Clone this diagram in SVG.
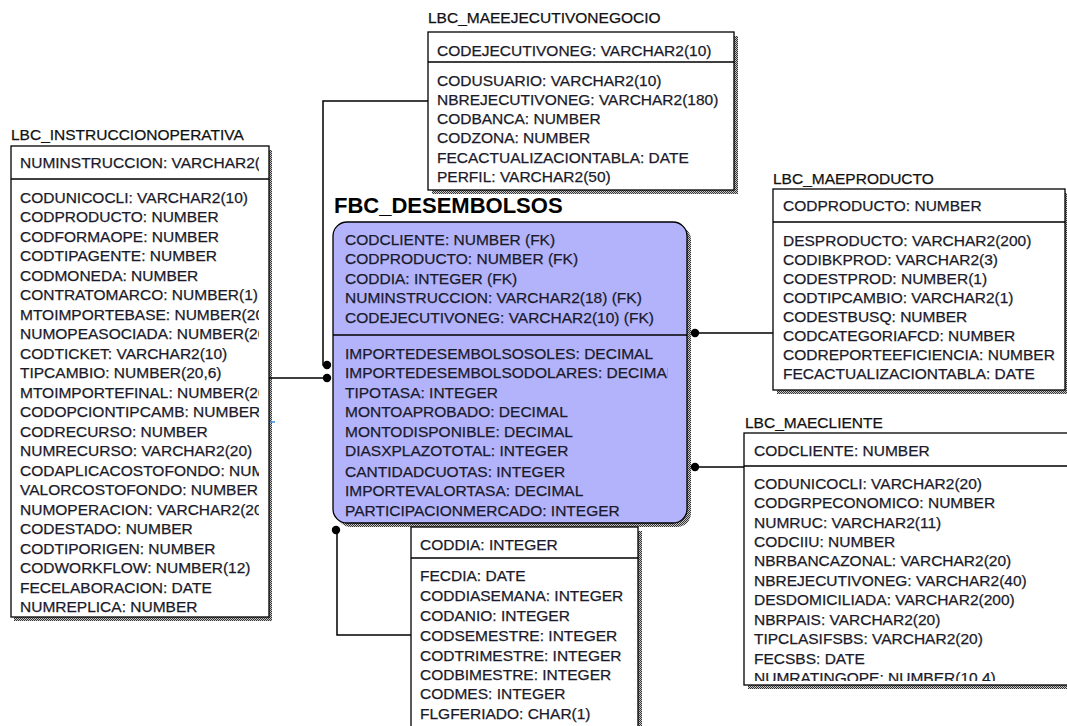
<svg xmlns="http://www.w3.org/2000/svg" width="1067" height="726" viewBox="0 0 1067 726">
<style>
text{font-family:"Liberation Sans",Arial,sans-serif;font-size:15.5px;fill:#1a1a2a;stroke:#1a1a2a;stroke-width:0.25}
.title{fill:#111;stroke:#111}
.big{font-size:22px;font-weight:bold;fill:#000;stroke:none}
.box{fill:#fff;stroke:#000;stroke-width:1.3}
.sep{stroke:#000;stroke-width:1.3}
.conn{fill:none;stroke:#000;stroke-width:1.5}
.dot{fill:#000}
</style>
<defs>
<pattern id="sh" width="2" height="2" patternUnits="userSpaceOnUse">
<rect width="2" height="2" fill="#c8c8c8"/>
<rect width="1" height="1" fill="#333"/>
<rect x="1" y="1" width="1" height="1" fill="#333"/>
</pattern>
<clipPath id="cl"><rect x="11" y="146" width="248" height="471"/></clipPath>
<clipPath id="cc"><rect x="333" y="222" width="335" height="301"/></clipPath>
<clipPath id="cm"><rect x="744" y="433" width="330" height="248"/></clipPath>
</defs>
<rect width="1067" height="726" fill="#fff"/>

<g id="lbc_instruccionoperativa">
<text class="title" x="11" y="140">LBC_INSTRUCCIONOPERATIVA</text>
<rect x="14" y="150" width="258" height="471" fill="url(#sh)"/>
<rect class="box" x="11" y="146" width="258" height="471"/>
<line class="sep" x1="11" y1="179" x2="269" y2="179"/>
<g clip-path="url(#cl)">
<text x="20" y="167.5">NUMINSTRUCCION: VARCHAR2(18)</text>
<text x="20" y="202.5">CODUNICOCLI: VARCHAR2(10)</text>
<text x="20" y="222">CODPRODUCTO: NUMBER</text>
<text x="20" y="241.5">CODFORMAOPE: NUMBER</text>
<text x="20" y="261">CODTIPAGENTE: NUMBER</text>
<text x="20" y="280.5">CODMONEDA: NUMBER</text>
<text x="20" y="300">CONTRATOMARCO: NUMBER(1)</text>
<text x="20" y="319.5">MTOIMPORTEBASE: NUMBER(20,6)</text>
<text x="20" y="339">NUMOPEASOCIADA: NUMBER(20)</text>
<text x="20" y="358.5">CODTICKET: VARCHAR2(10)</text>
<text x="20" y="378">TIPCAMBIO: NUMBER(20,6)</text>
<text x="20" y="397.5">MTOIMPORTEFINAL: NUMBER(20,6)</text>
<text x="20" y="417">CODOPCIONTIPCAMB: NUMBER</text>
<text x="20" y="436.5">CODRECURSO: NUMBER</text>
<text x="20" y="456">NUMRECURSO: VARCHAR2(20)</text>
<text x="20" y="475.5">CODAPLICACOSTOFONDO: NUMBER</text>
<text x="20" y="495">VALORCOSTOFONDO: NUMBER</text>
<text x="20" y="514.5">NUMOPERACION: VARCHAR2(20)</text>
<text x="20" y="534">CODESTADO: NUMBER</text>
<text x="20" y="553.5">CODTIPORIGEN: NUMBER</text>
<text x="20" y="573">CODWORKFLOW: NUMBER(12)</text>
<text x="20" y="592.5">FECELABORACION: DATE</text>
<text x="20" y="612">NUMREPLICA: NUMBER</text>
</g>
<line x1="270" y1="422" x2="275" y2="422" stroke="#3a8ee0" stroke-width="1.5"/>
</g>

<g id="lbc_maeejecutivonegocio">
<text class="title" x="428" y="23">LBC_MAEEJECUTIVONEGOCIO</text>
<rect x="432" y="36" width="306" height="158" fill="url(#sh)"/>
<rect class="box" x="428" y="32" width="306" height="158"/>
<line class="sep" x1="428" y1="62" x2="734" y2="62"/>
<text x="437" y="55.5">CODEJECUTIVONEG: VARCHAR2(10)</text>
<text x="437" y="85.5">CODUSUARIO: VARCHAR2(10)</text>
<text x="437" y="105">NBREJECUTIVONEG: VARCHAR2(180)</text>
<text x="437" y="124">CODBANCA: NUMBER</text>
<text x="437" y="143">CODZONA: NUMBER</text>
<text x="437" y="162.5">FECACTUALIZACIONTABLA: DATE</text>
<text x="437" y="182">PERFIL: VARCHAR2(50)</text>
</g>

<g id="fbc_desembolsos">
<text class="big" x="334" y="213">FBC_DESEMBOLSOS</text>
<rect x="337" y="226" width="354" height="301" rx="14" fill="url(#sh)"/>
<rect x="333" y="222" width="354" height="301" rx="14" fill="#b3b3fc" stroke="#000" stroke-width="1.3"/>
<line class="sep" x1="333" y1="335" x2="687" y2="335"/>
<g clip-path="url(#cc)">
<text x="345" y="244.5">CODCLIENTE: NUMBER (FK)</text>
<text x="345" y="264">CODPRODUCTO: NUMBER (FK)</text>
<text x="345" y="283.5">CODDIA: INTEGER (FK)</text>
<text x="345" y="303">NUMINSTRUCCION: VARCHAR2(18) (FK)</text>
<text x="345" y="322.5">CODEJECUTIVONEG: VARCHAR2(10) (FK)</text>
<text x="345" y="358.5">IMPORTEDESEMBOLSOSOLES: DECIMAL</text>
<text x="345" y="378">IMPORTEDESEMBOLSODOLARES: DECIMAL</text>
<text x="345" y="397.5">TIPOTASA: INTEGER</text>
<text x="345" y="417">MONTOAPROBADO: DECIMAL</text>
<text x="345" y="436.5">MONTODISPONIBLE: DECIMAL</text>
<text x="345" y="456">DIASXPLAZOTOTAL: INTEGER</text>
<text x="345" y="476.5">CANTIDADCUOTAS: INTEGER</text>
<text x="345" y="496">IMPORTEVALORTASA: DECIMAL</text>
<text x="345" y="515.5">PARTICIPACIONMERCADO: INTEGER</text>
</g>
</g>

<g id="lbc_maeproducto">
<text class="title" x="773" y="183.5">LBC_MAEPRODUCTO</text>
<rect x="777" y="193" width="292" height="201" fill="url(#sh)"/>
<rect class="box" x="773" y="189" width="292" height="201"/>
<line class="sep" x1="773" y1="222" x2="1065" y2="222"/>
<text x="783" y="210.5">CODPRODUCTO: NUMBER</text>
<text x="783" y="245.5">DESPRODUCTO: VARCHAR2(200)</text>
<text x="783" y="264.5">CODIBKPROD: VARCHAR2(3)</text>
<text x="783" y="283.5">CODESTPROD: NUMBER(1)</text>
<text x="783" y="302.5">CODTIPCAMBIO: VARCHAR2(1)</text>
<text x="783" y="321.5">CODESTBUSQ: NUMBER</text>
<text x="783" y="340.5">CODCATEGORIAFCD: NUMBER</text>
<text x="783" y="359.5">CODREPORTEEFICIENCIA: NUMBER</text>
<text x="783" y="378.5">FECACTUALIZACIONTABLA: DATE</text>
</g>

<g id="lbc_maecliente">
<text class="title" x="745" y="427.5">LBC_MAECLIENTE</text>
<rect x="748" y="437" width="340" height="252" fill="url(#sh)"/>
<rect class="box" x="744" y="433" width="340" height="252"/>
<line class="sep" x1="744" y1="466" x2="1067" y2="466"/>
<g clip-path="url(#cm)">
<text x="754" y="455.5">CODCLIENTE: NUMBER</text>
<text x="754" y="488.5">CODUNICOCLI: VARCHAR2(20)</text>
<text x="754" y="508">CODGRPECONOMICO: NUMBER</text>
<text x="754" y="527.5">NUMRUC: VARCHAR2(11)</text>
<text x="754" y="546.5">CODCIIU: NUMBER</text>
<text x="754" y="566">NBRBANCAZONAL: VARCHAR2(20)</text>
<text x="754" y="585.5">NBREJECUTIVONEG: VARCHAR2(40)</text>
<text x="754" y="605">DESDOMICILIADA: VARCHAR2(200)</text>
<text x="754" y="624.5">NBRPAIS: VARCHAR2(20)</text>
<text x="754" y="644">TIPCLASIFSBS: VARCHAR2(20)</text>
<text x="754" y="663.5">FECSBS: DATE</text>
<text x="754" y="683">NUMRATINGOPE: NUMBER(10,4)</text>
</g>
</g>

<g id="lbc_dia">
<rect x="415" y="531" width="227" height="210" fill="url(#sh)"/>
<rect class="box" x="411" y="527" width="227" height="210"/>
<line class="sep" x1="411" y1="558" x2="638" y2="558"/>
<text x="420" y="549.5">CODDIA: INTEGER</text>
<text x="420" y="580.5">FECDIA: DATE</text>
<text x="420" y="601">CODDIASEMANA: INTEGER</text>
<text x="420" y="621">CODANIO: INTEGER</text>
<text x="420" y="640.5">CODSEMESTRE: INTEGER</text>
<text x="420" y="660.5">CODTRIMESTRE: INTEGER</text>
<text x="420" y="679.5">CODBIMESTRE: INTEGER</text>
<text x="420" y="698.5">CODMES: INTEGER</text>
<text x="420" y="718.5">FLGFERIADO: CHAR(1)</text>
</g>

<g id="connectors">
<polyline class="conn" points="428,101 323,101 323,365 328,365"/>
<circle class="dot" cx="327" cy="365" r="4.2"/>
<line class="conn" x1="269" y1="378" x2="328" y2="378"/>
<circle class="dot" cx="327" cy="378" r="4.2"/>
<line class="conn" x1="695" y1="333" x2="773" y2="333"/>
<circle class="dot" cx="695" cy="333" r="4.2"/>
<line class="conn" x1="695" y1="467" x2="744" y2="467"/>
<circle class="dot" cx="695" cy="467" r="4.2"/>
<polyline class="conn" points="337,530 337,635 411,635"/>
<circle class="dot" cx="336" cy="530" r="4.2"/>
</g>
</svg>
